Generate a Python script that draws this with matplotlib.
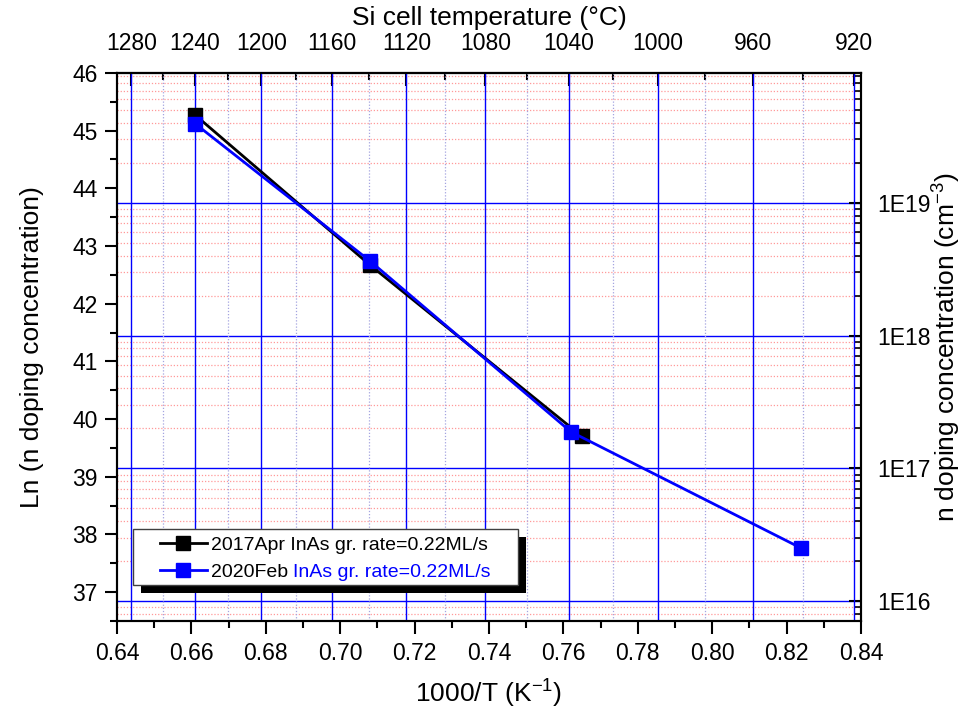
import numpy as np
import matplotlib.pyplot as plt
from matplotlib.patches import Rectangle
from matplotlib.ticker import MultipleLocator, LogLocator, FixedLocator, NullFormatter, FuncFormatter

plt.rcParams['font.family'] = ['Liberation Sans', 'DejaVu Sans']
plt.rcParams['mathtext.default'] = 'regular'

# data
x_2017 = [0.661, 0.708, 0.765]
ln_2017 = [45.27, 42.67, 39.70]
x_2020 = [0.661, 0.708, 0.762, 0.824]
ln_2020 = [45.12, 42.74, 39.78, 37.76]
label_2017 = '2017Apr InAs gr. rate=0.22ML/s'
label_2020 = '2020Feb'
label_2020_blue = 'InAs gr. rate=0.22ML/s'

temp_major = [1280, 1240, 1200, 1160, 1120, 1080, 1040, 1000, 960, 920]
temp_minor = [1260, 1220, 1180, 1140, 1100, 1060, 1020, 980, 940]


def c_to_x(t):
    return 1000.0 / (np.asarray(t, dtype=float) + 273.15)


def x_to_c(x):
    x = np.asarray(x, dtype=float)
    with np.errstate(divide='ignore', invalid='ignore'):
        return 1000.0 / x - 273.15


fig = plt.figure(figsize=(9.72, 7.15), dpi=100)
ax = fig.add_axes([0.1204, 0.1315, 0.7654, 0.7665])
ax2 = ax.twinx()

ax.set_xlim(0.64, 0.84)
ax.set_ylim(36.5, 46)
ax2.set_yscale('log')
ax2.set_ylim(np.exp(36.5), np.exp(46))

# grids
ax2.yaxis.set_major_locator(LogLocator(base=10, numticks=20))
ax2.yaxis.set_minor_locator(LogLocator(base=10, subs=np.arange(2, 10), numticks=50))
ax2.yaxis.set_minor_formatter(NullFormatter())
ax2.yaxis.set_major_formatter(FuncFormatter(lambda v, p: '1E%d' % round(np.log10(v))))
ax2.grid(which='major', axis='y', color='blue', lw=1)
ax2.grid(which='minor', axis='y', color='#ff9999', ls=(0, (1, 1.5)), lw=0.9)
ax.set_zorder(ax2.get_zorder() + 1)
ax.patch.set_visible(False)

for t in c_to_x(temp_major):
    ax.axvline(t, color='blue', lw=1, zorder=0.5)
for t in c_to_x(temp_minor):
    ax.axvline(t, color='#a4a4e0', lw=0.9, ls=(0, (1, 1.5)), zorder=0.5)

# data
ax.plot(x_2017, ln_2017, '-s', color='black', lw=2, ms=10, label=label_2017, zorder=3)
ax.plot(x_2020, ln_2020, '-s', color='blue', lw=2, ms=10, label=label_2020, zorder=4)

# ticks
ax.xaxis.set_major_locator(MultipleLocator(0.02))
ax.xaxis.set_minor_locator(MultipleLocator(0.01))
ax.xaxis.set_major_formatter(FuncFormatter(lambda v, p: '%.2f' % v))
ax.yaxis.set_major_locator(MultipleLocator(1))
ax.yaxis.set_minor_locator(MultipleLocator(0.5))
ax.tick_params(axis='both', which='major', direction='out', length=9, width=1.5, labelsize=16.5, pad=5)
ax.tick_params(axis='both', which='minor', direction='out', length=5, width=1.5)
ax.tick_params(axis='x', which='major', pad=6)
ax2.tick_params(axis='y', which='major', direction='in', length=9, width=1.5, labelsize=16.5, pad=12)
ax2.tick_params(axis='y', which='minor', direction='in', length=5, width=1.2)

sec = ax.secondary_xaxis('top', functions=(x_to_c, c_to_x))
sec.set_xticks(temp_major)
sec.xaxis.set_minor_locator(FixedLocator(temp_minor))
sec.tick_params(axis='x', which='major', direction='in', length=9, width=1.5, labelsize=16.5, pad=13)
sec.tick_params(axis='x', which='minor', direction='in', length=5, width=1.5)
sec.set_xlabel('Si cell temperature (\u00b0C)', fontsize=19, labelpad=5)

for a in (ax, ax2):
    for s in a.spines.values():
        s.set_linewidth(1.5)
sec.spines['top'].set_linewidth(1.5)

ax.set_xlabel('1000/T (K$^{-1}$)', fontsize=19, labelpad=9)
ax.set_ylabel('Ln (n doping concentration)', fontsize=19, labelpad=20)
ax2.set_ylabel('n doping concentration (cm$^{-3}$)', fontsize=19, labelpad=0)

# legend with Origin-like frame and shadow
bx, by, bw, bh = 0.0215, 0.0657, 0.5175, 0.1022
ax.add_patch(Rectangle((bx + 0.0108, by - 0.0146), bw, bh, transform=ax.transAxes,
                       facecolor='black', edgecolor='none', zorder=5))
ax.add_patch(Rectangle((bx, by), bw, bh, transform=ax.transAxes,
                       facecolor='white', edgecolor='#404040', lw=1, zorder=5.1))
leg = ax.legend(loc='center left', bbox_to_anchor=(0.0578, by + bh / 2 - 0.003), frameon=False,
                fontsize=14, handlelength=2.4, handletextpad=0.2, labelspacing=0.45,
                borderpad=0, borderaxespad=0)
leg.set_zorder(6)
ax.annotate(label_2020_blue, xy=(1, 0), xycoords=leg.get_texts()[1], xytext=(3.9, 0),
            textcoords='offset points', ha='left', va='bottom',
            color='blue', fontsize=14, zorder=7)

fig.savefig('out.png', dpi=100)
